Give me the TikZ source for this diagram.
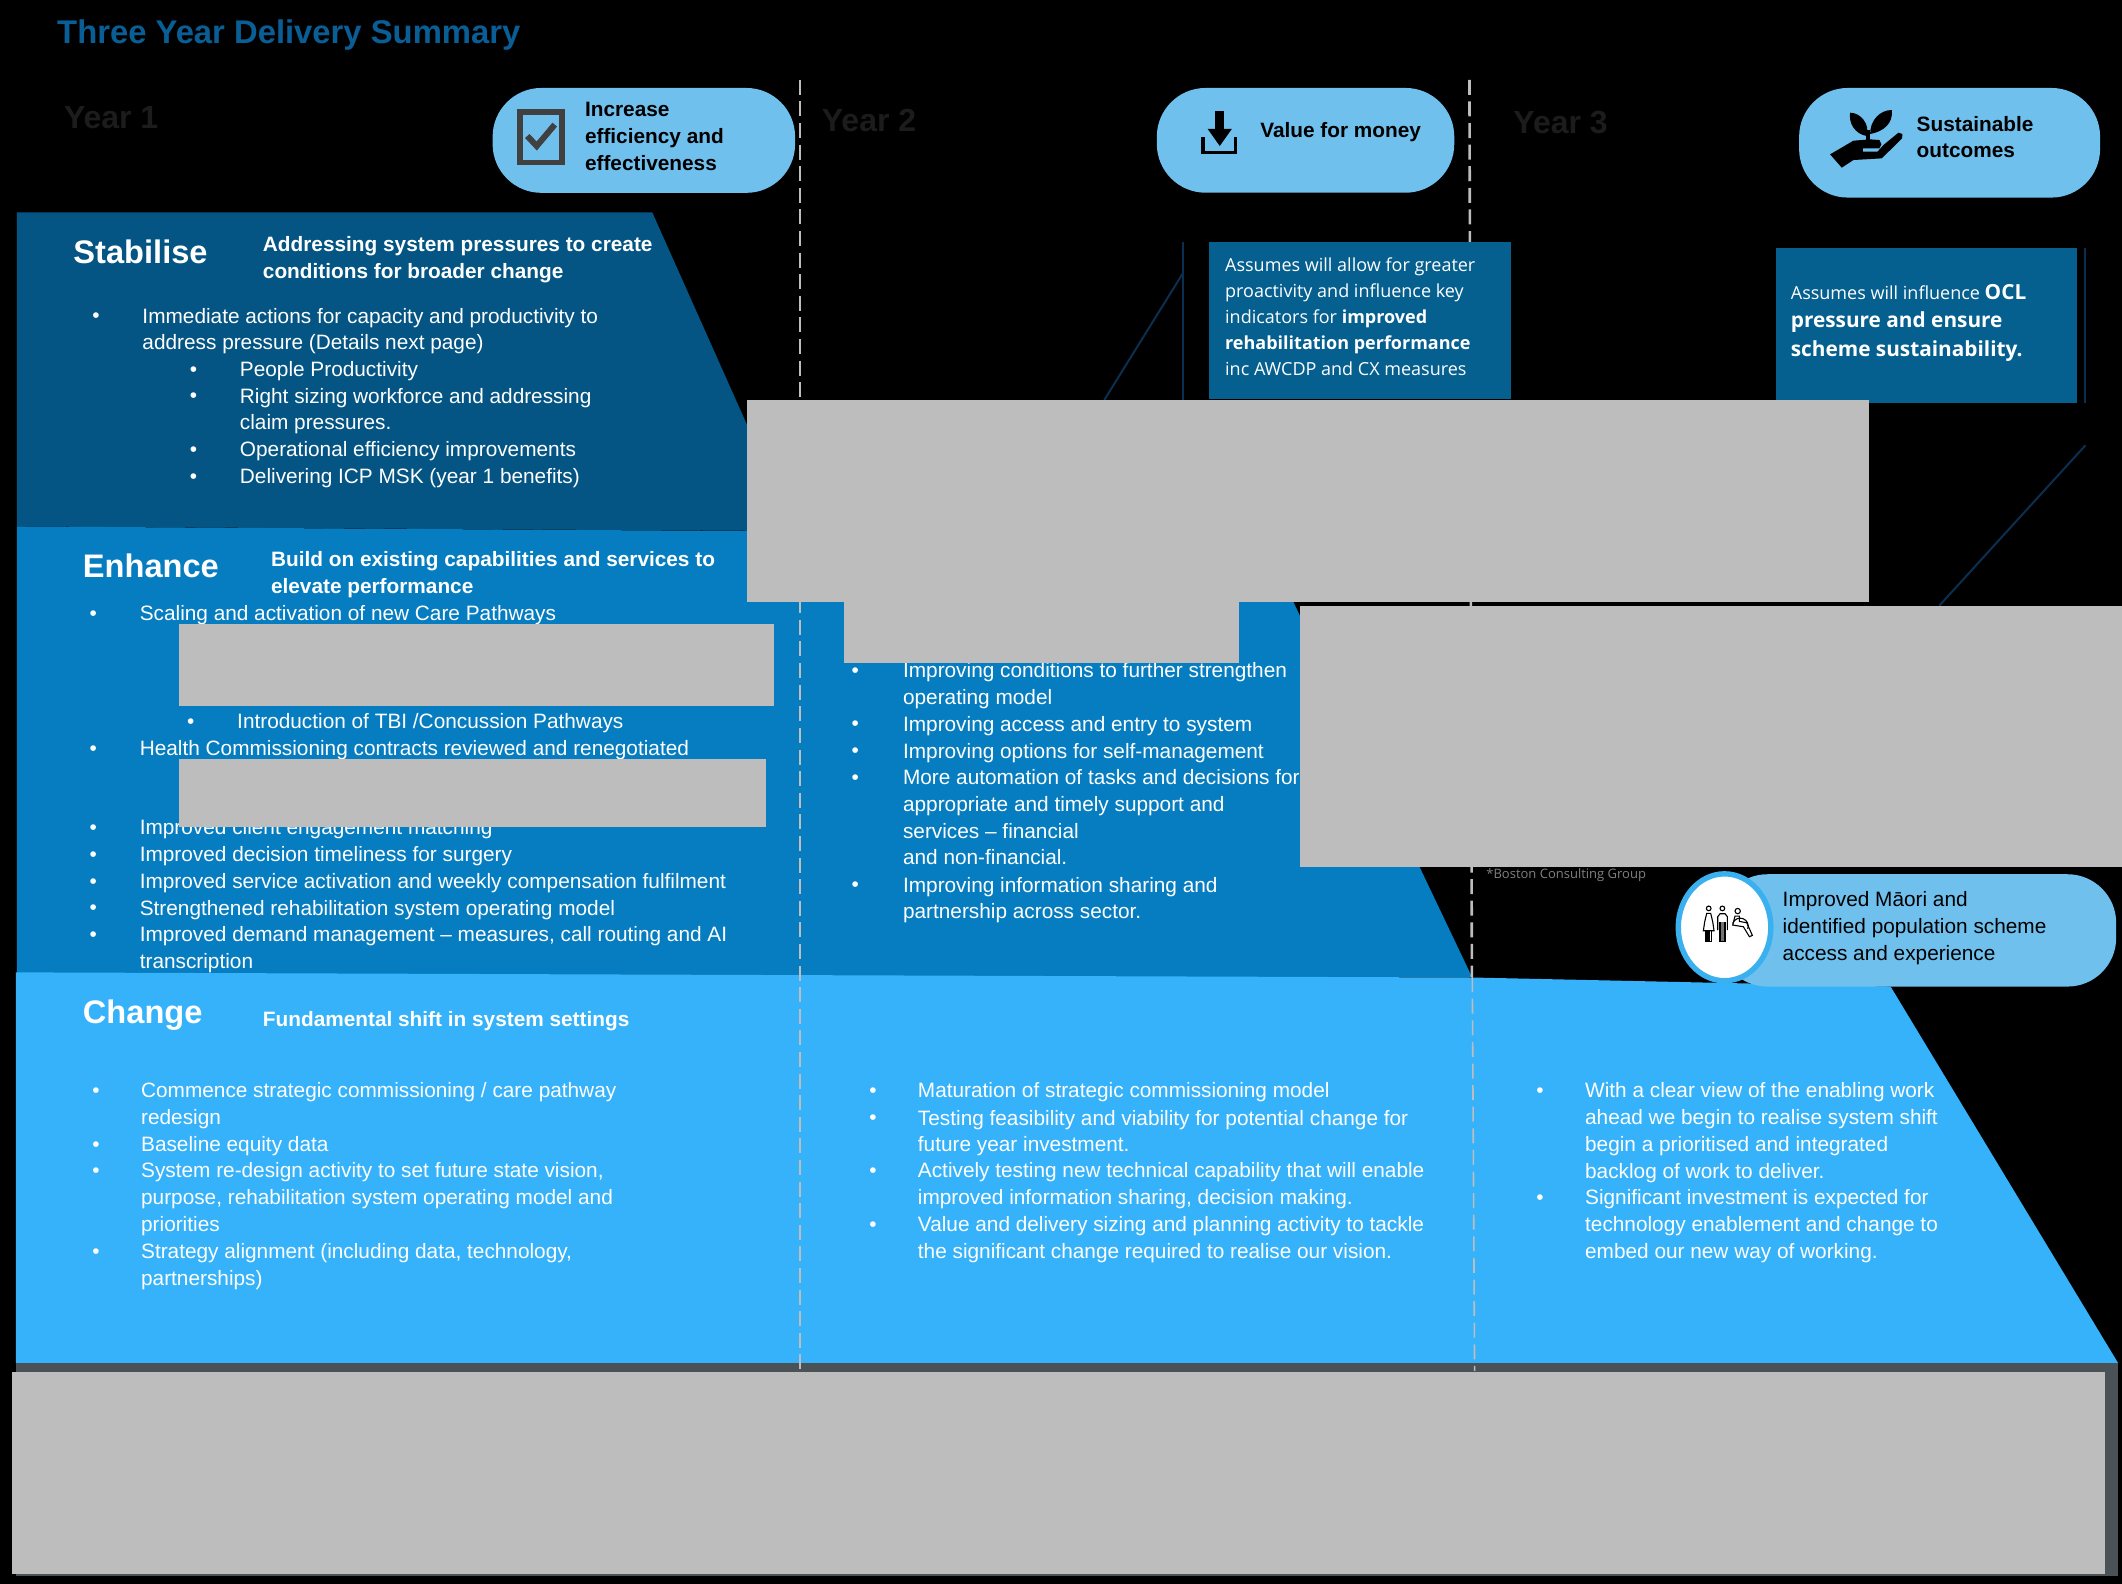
\documentclass[tikz,border=0pt]{standalone}
\usepackage{fontspec}
\setmainfont{Liberation Sans}
\newfontfamily\boxfont{Open Sans}
\definecolor{stabc}{HTML}{045584}
\definecolor{enhc}{HTML}{067DC0}
\definecolor{chgc}{HTML}{35B2FA}
\definecolor{pillc}{HTML}{70C0EE}
\definecolor{boxc}{HTML}{055F8F}
\definecolor{maskc}{HTML}{BDBDBD}
\definecolor{barc}{HTML}{4A5258}
\definecolor{navyc}{HTML}{0A2F50}
\definecolor{titlec}{HTML}{0A5E96}
\definecolor{yearc}{HTML}{1C1C1C}
\definecolor{ringc}{HTML}{3BB0EE}
\definecolor{iconc}{HTML}{404040}
\tikzset{
  bodytext/.style={anchor=north west,inner sep=0pt,align=left,text=white,font=\fontsize{10.4}{13.36}\selectfont},
  bullettext/.style={anchor=base,inner sep=0pt,text=white,font=\fontsize{10.4}{13.36}\selectfont},
  headtext/.style={anchor=base west,inner sep=0pt,text=white,font=\fontsize{16.3}{19}\selectfont\bfseries},
  tagtext/.style={anchor=north west,inner sep=0pt,align=left,text=white,font=\fontsize{10.4}{13.36}\selectfont\bfseries},
  yeartext/.style={anchor=base west,inner sep=0pt,text=yearc,font=\fontsize{16}{19}\selectfont\bfseries},
  pilltext/.style={anchor=north west,inner sep=0pt,align=left,text=black,font=\fontsize{10.4}{13.36}\selectfont\bfseries},
  pillshape/.style={fill=pillc,rounded corners=36*0.6766pt},
  mask/.style={fill=maskc},
  dashline/.style={draw=maskc,dash pattern=on 7.5pt off 3.3pt},
  navyline/.style={draw=navyc,line width=1pt},
}
\newcommand{\bul}[5]{%
  \node[bullettext] (#1b) at (#2,#4) {•};
  \node[bodytext] (#1) at ({#3},{#4-13.79}) {\rule{0pt}{9.33pt}#5};
}
\begin{document}
\begin{tikzpicture}[x=0.6766pt,y=-0.6766pt]
\useasboundingbox (0,0) rectangle (1568,1170.45);
\fill[black] (0,0) rectangle (1568,1170.45);

% bands
\fill[stabc] (12.4,157) -- (482,157) -- (587,392.4) -- (12.4,389) -- cycle;
\fill[enhc] (12.4,389) -- (552,392.4) -- (932,395) -- (1087.7,722) -- (12.4,722) -- cycle;
\fill[barc] (11.7,1007) rectangle (1565,1164.6);
\fill[chgc] (11.7,718.5) -- (1087.7,722.3) -- (1397,729) -- (1565,1007) -- (11.7,1007) -- cycle;

% year separators
\draw[dashline,line width=0.8pt] (591.2,59) -- (591.2,1013);
\draw[dashline,line width=1.3pt] (1085.8,59) -- (1087.6,722);
\draw[dashline,line width=0.8pt] (1087.9,722) -- (1089.6,1013);

% thin navy lines
\draw[navyline] (874,179) -- (874,295.5);
\draw[navyline] (874,202) -- (816,295.5);
\draw[navyline] (1541,183) -- (1541,298);
\draw[navyline] (1541,329) -- (1433,447.5);

% assumption boxes
\fill[boxc] (893.5,179) rectangle (1116.6,295);
\fill[boxc] (1312,183) rectangle (1534.6,298);
\node[anchor=north west,inner sep=0pt,align=left,text=white,font=\boxfont\fontsize{9}{13}\selectfont] (boxa) at (905,190.5)
 {Assumes will allow for greater\\proactivity and influence key\\indicators for \textbf{improved}\\\textbf{rehabilitation performance}\\inc AWCDP and CX measures};
\node[anchor=north west,inner sep=0pt,align=left,text=white,font=\boxfont\fontsize{10.4}{14.3}\selectfont] (boxb) at (1323,209.5)
 {{\fontsize{9}{14.3}\selectfont Assumes will  influence }\textbf{OCL}\\\textbf{pressure and ensure}\\\textbf{scheme sustainability.}};

% title and years
\node[anchor=base west,inner sep=0pt,text=titlec,font=\fontsize{16.4}{19}\selectfont\bfseries] (title) at (42,32) {Three Year Delivery Summary};
\node[yeartext] (yone) at (47,95) {Year 1};
\node[yeartext] (ytwo) at (607,97) {Year 2};
\node[yeartext] (ythree) at (1118,99) {Year 3};

% pills
\fill[pillshape] (364,65) rectangle (587.5,142.5);
\fill[pillshape] (854.8,65) rectangle (1074.6,142.4);
\fill[pillshape] (1329.4,65) rectangle (1551.8,146);
\fill[pillshape] (1270,646) rectangle (1563.7,729);

\node[pilltext] (pa) at (432,75.5) {Increase\\efficiency  and\\effectiveness};
\node[pilltext] (pb) at (931,90.5) {Value for money};
\node[pilltext] (pc) at (1416,85.5) {Sustainable\\outcomes};
\node[pilltext,font=\fontsize{10.4}{13.36}\selectfont] (pd) at (1317,658.5) {Improved Māori and\\identified population scheme\\access and experience};

% checkbox icon
\draw[iconc,line width=2.7pt] (384.3,82.8) rectangle (415.3,120.2);
\draw[iconc,line width=3pt] (389.6,100.5) -- (396.6,107.9) -- (409.9,92.1);

% download icon
\fill[black] (898,82) rectangle (904.6,96) ;
\fill[black] (892.4,95.3) -- (910.2,95.3) -- (901.3,107.9) -- cycle;
\draw[black,line width=1.7pt] (889,101.5) -- (889,112.7) -- (913,112.7) -- (913,101.5);

% plant-in-hand icon
\begin{scope}[shift={(1344.9,81.3)},scale=0.2463]
\fill[black] (30,133) -- (100,92) -- (150,88) -- (178,90) -- (184,103) -- (178,115) -- (128,115) -- (128,125) -- (172,125) -- (190,105) -- (235,68) -- (247,72) -- (246,85) -- (185,145) -- (100,150) -- (65,173) -- cycle;
\fill[black] (90,8) .. controls (120,8) and (150,40) .. (140,78) .. controls (105,72) and (85,40) .. (90,8) -- cycle;
\fill[black] (215,0) .. controls (180,0) and (150,30) .. (150,72) .. controls (190,65) and (220,40) .. (215,0) -- cycle;
\draw[black,line width=2pt] (143,60) -- (143,90);
\end{scope}

% people icon ring
\draw[ringc,line width=2.7pt,fill=white] (1274.3,685.2) ellipse (34.2 and 39.5);
\begin{scope}[shift={(1248.8,650.3)},scale=0.2463,draw=black,line width=0.55pt]
\draw (56,85) circle (7);
\draw (50,100) -- (62,100) -- (68,125) -- (72,152) -- (40,152) -- (44,125) -- cycle;
\draw (48,152) -- (48,185) -- (54,185) -- (54,152);
\draw (58,152) -- (58,185) -- (64,185) -- (64,152);
\draw (97,85) circle (7);
\draw (83,150) -- (83,110) -- (90,101) -- (105,101) -- (112,110) -- (112,150);
\fill[black!55] (90,125) rectangle (105,185);
\draw (90,185) -- (90,125) (105,125) -- (105,185) (90,185) -- (105,185);
\draw (143,93) circle (8);
\draw (135,108) -- (128,135) -- (160,140) -- (178,170) -- (187,166) -- (170,128) -- (148,124) -- (148,108) -- cycle;
\draw (128,130) arc[start angle=200,end angle=380,x radius=24,y radius=24];
\end{scope}

% section headings
\node[headtext] (hstab) at (54,195) {Stabilise};
\node[headtext] (henh) at (61,427) {Enhance};
\node[headtext] (hchg) at (61,756) {Change};
\node[tagtext] (tstab) at (194,172) {\rule{0pt}{9.33pt}Addressing system pressures to create\\conditions for broader change};
\node[tagtext] (tenh) at (200,404.5) {\rule{0pt}{9.33pt}Build on existing capabilities and services to\\elevate performance};
\node[tagtext] (tchg) at (194,744.5) {\rule{0pt}{9.33pt}Fundamental shift in system settings};

% stabilise list
\bul{sa}{71}{105}{238.5}{Immediate actions for capacity and productivity to\\address pressure (Details next page)}
\bul{sb}{143}{177}{278}{People Productivity}
\bul{sc}{143}{177}{297.5}{Right sizing workforce and addressing\\claim pressures.}
\bul{sd}{143}{177}{337}{Operational efficiency improvements}
\bul{se}{143}{177}{357}{Delivering ICP MSK (year 1 benefits)}

% enhance left list
\bul{ea}{69}{103}{458.5}{Scaling and activation of new Care Pathways}
\bul{eb}{141}{175}{538}{Introduction of TBI /Concussion Pathways}
\bul{ec}{69}{103}{558}{Health Commissioning contracts reviewed and renegotiated}
\bul{ed}{69}{103}{616.5}{Improved client engagement matching}
\bul{ee}{69}{103}{636.5}{Improved decision timeliness for surgery}
\bul{ef}{69}{103}{656.5}{Improved service activation and weekly compensation fulfilment}
\bul{eg}{69}{103}{676}{Strengthened rehabilitation system operating model}
\bul{eh}{69}{103}{695.5}{Improved demand management – measures, call routing and AI\\transcription}

% enhance middle list
\bul{ma}{632}{667}{500.5}{Improving conditions to further strengthen\\operating model}
\bul{mb}{632}{667}{540}{Improving access and entry to system}
\bul{mc}{632}{667}{560}{Improving options for self-management}
\bul{md}{632}{667}{579.5}{More automation of tasks and decisions for\\appropriate and timely support and\\services – financial\\and non-financial.}
\bul{me}{632}{667}{659}{Improving information sharing and\\partnership across sector.}

% change lists
\bul{ca}{71}{104}{811}{Commence strategic commissioning / care pathway\\redesign}
\bul{cb}{71}{104}{850.5}{Baseline equity data}
\bul{cc}{71}{104}{870}{System re-design activity to set future state vision,\\purpose, rehabilitation system operating model and\\priorities}
\bul{cd}{71}{104}{930}{Strategy alignment (including data, technology,\\partnerships)}
\bul{da}{645}{678}{811}{Maturation of strategic commissioning model}
\bul{db}{645}{678}{831}{Testing feasibility and viability for potential change for\\future year investment.}
\bul{dc}{645}{678}{870}{Actively testing new technical capability that will enable\\improved information sharing, decision making.}
\bul{dd}{645}{678}{910}{Value and delivery sizing and planning activity to tackle\\the significant change required to realise our vision.}
\bul{fa}{1138}{1171}{811}{With a clear view of the enabling work\\ahead we begin to realise system shift\\begin a prioritised and integrated\\backlog of work to deliver.}
\bul{fb}{1138}{1171}{890}{Significant investment is expected for\\technology enablement and change to\\embed our new way of working.}

% masked areas
\fill[mask] (552,295.6) rectangle (1381,444.7);
\fill[mask] (623.8,444) rectangle (915.8,489.7);
\fill[mask] (960.7,447.8) rectangle (1568,641);
\fill[mask] (132.3,461) rectangle (572,521.5);
\fill[mask] (132.3,561) rectangle (566,610.9);
\fill[mask] (9,1013.6) rectangle (1555.5,1163);

% footnote
\node[anchor=base west,inner sep=0pt,text=black!50,font=\boxfont\fontsize{6.5}{8}\selectfont] (foot) at (1098,649) {*Boston Consulting Group};
\end{tikzpicture}
\end{document}
